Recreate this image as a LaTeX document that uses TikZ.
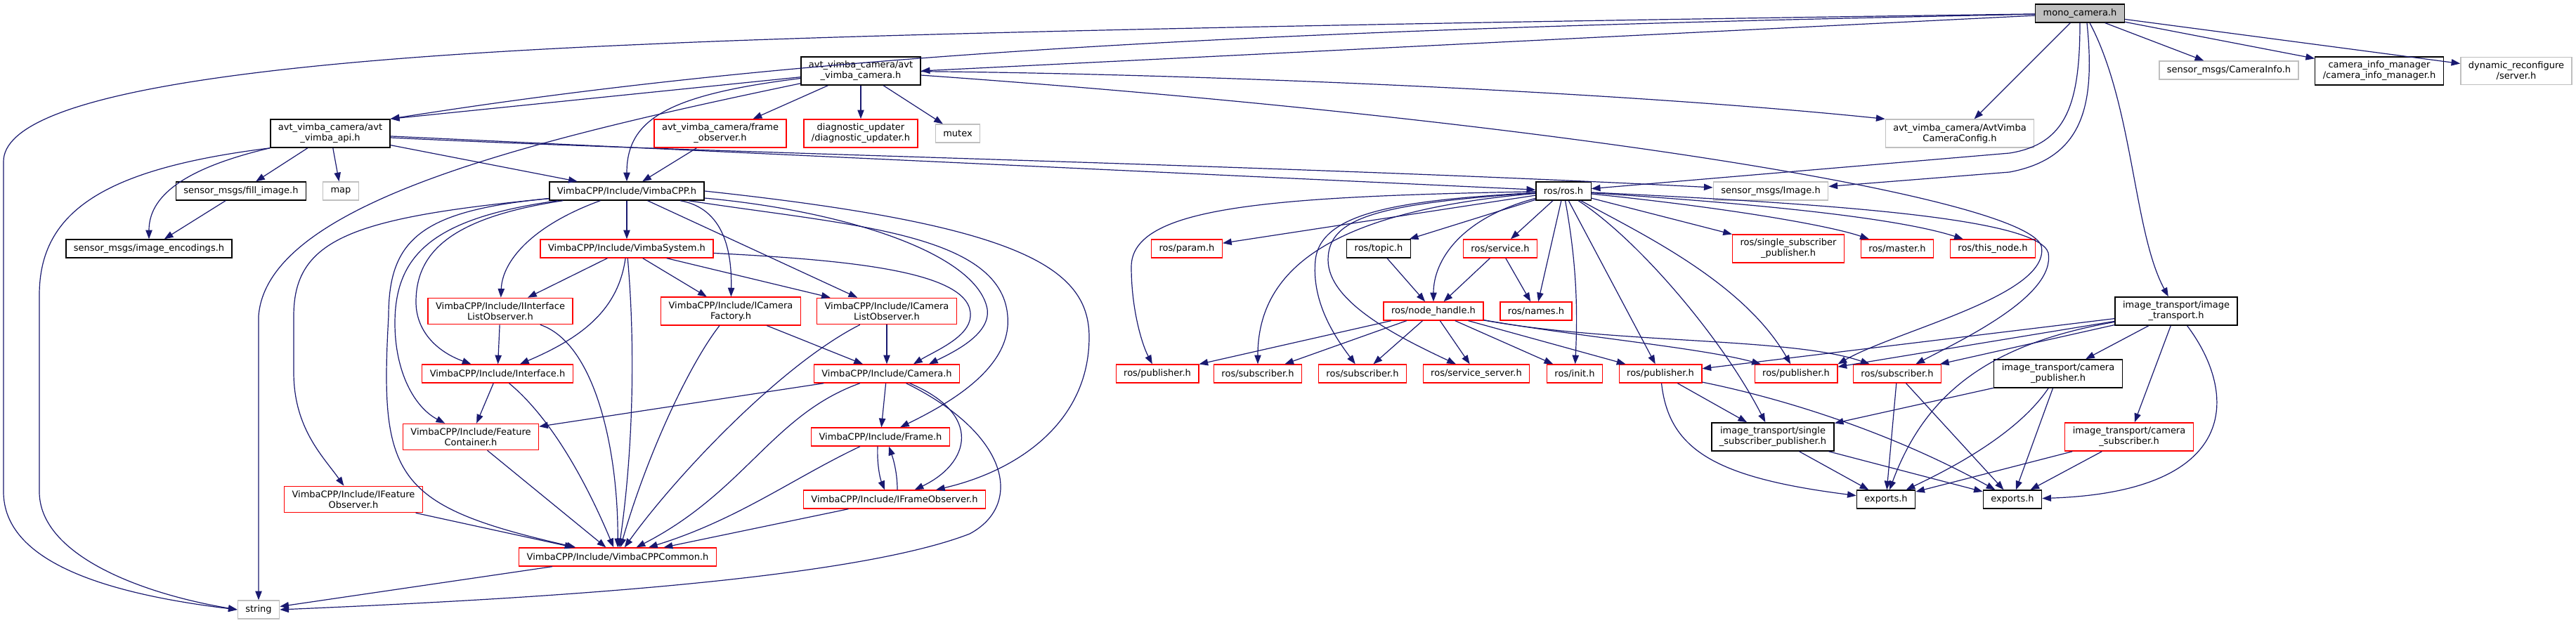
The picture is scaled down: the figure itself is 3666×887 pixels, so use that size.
\documentclass[tikz,border=0pt]{standalone}
\usepackage{fontspec}
\setmainfont{DejaVu Sans}
\usepackage{tikz}
\usetikzlibrary{arrows.meta,calc}
\definecolor{edgeblue}{RGB}{25,25,112}
\definecolor{cutred}{RGB}{255,0,0}
\definecolor{extgray}{RGB}{191,191,191}

\begin{document}
\begin{tikzpicture}[
        x=0.75pt, y=-0.75pt,
        file/.style={rectangle, draw=#1, fill=white, line width=1pt, text=black,
            minimum height=19.5pt, inner xsep=8.25pt, inner ysep=4.6pt,
            align=center, font=\fontsize{9.75}{11.25}\selectfont},
        dep/.style={-{Triangle[length=9.5pt,width=7pt]}, draw=edgeblue, line width=0.9pt}
    ]
        \fill[white] (0,0) rectangle (3666,887);
        \useasboundingbox (0,0) rectangle (3666,887);

        \node[file=black, fill=extgray] (mono) at (2960,19) {mono\_camera.h};
        \node[file=black] (avtcam) at (1225,101) {avt\_vimba\_camera/avt\\\_vimba\_camera.h};
        \node[file=extgray] (caminfo) at (3172,100) {sensor\_msgs/CameraInfo.h};
        \node[file=black] (infomgr) at (3386,101) {camera\_info\_manager\\/camera\_info\_manager.h};
        \node[file=extgray] (dynrec) at (3581,101) {dynamic\_reconfigure\\/server.h};

        \node[file=black] (api) at (470,190) {avt\_vimba\_camera/avt\\\_vimba\_api.h};
        \node[file=cutred] (frameobs) at (1025,190) {avt\_vimba\_camera/frame\\\_observer.h};
        \node[file=cutred] (diag) at (1225,190) {diagnostic\_updater\\/diagnostic\_updater.h};
        \node[file=extgray] (mutex) at (1363,190) {mutex};
        \node[file=extgray] (config) at (2789,190) {avt\_vimba\_camera/AvtVimba\\CameraConfig.h};

        \node[file=black] (fillimg) at (343,272) {sensor\_msgs/fill\_image.h};
        \node[file=extgray] (map) at (485,272) {map};
        \node[file=black] (vimbacpp) at (892,272) {VimbaCPP/Include/VimbaCPP.h};
        \node[file=black] (rosh) at (2225,272) {ros/ros.h};
        \node[file=extgray] (image) at (2520,272) {sensor\_msgs/Image.h};

        \node[file=black] (encodings) at (212,354) {sensor\_msgs/image\_encodings.h};
        \node[file=cutred] (vsystem) at (892,354) {VimbaCPP/Include/VimbaSystem.h};
        \node[file=cutred] (param) at (1689,354) {ros/param.h};
        \node[file=black] (topic) at (1962,354) {ros/topic.h};
        \node[file=cutred] (service) at (2135,354) {ros/service.h};
        \node[file=cutred] (rossingle) at (2545,354) {ros/single\_subscriber\\\_publisher.h};
        \node[file=cutred] (master) at (2700,354) {ros/master.h};
        \node[file=cutred] (thisnode) at (2836,354) {ros/this\_node.h};

        \node[file=cutred] (iiflist) at (712,443) {VimbaCPP/Include/IInterface\\ListObserver.h};
        \node[file=cutred] (icamfac) at (1040,443) {VimbaCPP/Include/ICamera\\Factory.h};
        \node[file=cutred] (icamlist) at (1262,443) {VimbaCPP/Include/ICamera\\ListObserver.h};
        \node[file=cutred] (nodehandle) at (2040,443) {ros/node\_handle.h};
        \node[file=cutred] (names) at (2186,443) {ros/names.h};
        \node[file=black] (itrans) at (3097,443) {image\_transport/image\\\_transport.h};

        \node[file=cutred] (iface) at (708,532) {VimbaCPP/Include/Interface.h};
        \node[file=cutred] (camera) at (1262,532) {VimbaCPP/Include/Camera.h};
        \node[file=cutred] (pubA) at (1647,532) {ros/publisher.h};
        \node[file=cutred] (subA) at (1790,532) {ros/subscriber.h};
        \node[file=cutred] (subB) at (1939,532) {ros/subscriber.h};
        \node[file=cutred] (server) at (2101,532) {ros/service\_server.h};
        \node[file=cutred] (init) at (2241,532) {ros/init.h};
        \node[file=cutred] (pubB) at (2363,532) {ros/publisher.h};
        \node[file=cutred] (pubC) at (2556,532) {ros/publisher.h};
        \node[file=cutred] (subC) at (2700,532) {ros/subscriber.h};
        \node[file=black] (campub) at (2929,532) {image\_transport/camera\\\_publisher.h};

        \node[file=cutred] (featcont) at (670,622) {VimbaCPP/Include/Feature\\Container.h};
        \node[file=cutred] (frame) at (1253,622) {VimbaCPP/Include/Frame.h};
        \node[file=black] (itsingle) at (2523,622) {image\_transport/single\\\_subscriber\_publisher.h};
        \node[file=cutred] (camsub) at (3030,622) {image\_transport/camera\\\_subscriber.h};

        \node[file=cutred] (ifeatobs) at (503,711) {VimbaCPP/Include/IFeature\\Observer.h};
        \node[file=cutred] (iframeobs) at (1273,711) {VimbaCPP/Include/IFrameObserver.h};
        \node[file=black] (exportsA) at (2684,711) {exports.h};
        \node[file=black] (exportsB) at (2864,711) {exports.h};

        \node[file=cutred] (common) at (879,793) {VimbaCPP/Include/VimbaCPPCommon.h};
        \node[file=extgray] (string) at (368,868) {string};

        \draw[dep] (mono) .. controls (1800,35) and (1200,50) .. (920,63) .. controls (400,85) and (5,130) .. (5,230) -- (5,700) .. controls (5,800) and (150,845) .. (string.west);
        \draw[dep] (mono) .. controls (1800,42) and (1150,75) .. (api.north east);
        \draw[dep] (mono) -- (avtcam.east);
        \draw[dep] (mono) -- (config);
        \draw[dep] (mono.south) .. controls (2960,150) and (2940,205) .. (2860,218) -- (rosh);
        \draw[dep] ($(mono.south)+(10,0)$) .. controls (2982,150) and (2965,225) .. (2860,245) -- (image);
        \draw[dep] ($(mono.south)+(14,0)$) .. controls (3036,150) and (3036,330) .. (itrans);
        \draw[dep] (mono) -- (caminfo);
        \draw[dep] (mono) -- (infomgr);
        \draw[dep] (mono) -- (dynrec);

        \draw[dep] (avtcam) -- (api.north east);
        \draw[dep] (avtcam) .. controls (750,200) and (380,290) .. (368,450) -- (string);
        \draw[dep] (avtcam) .. controls (950,135) and (892,170) .. (vimbacpp);
        \draw[dep] (avtcam) -- (frameobs);
        \draw[dep] (avtcam) -- (diag);
        \draw[dep] (avtcam) -- (mutex);
        \draw[dep] (avtcam) .. controls (1700,105) and (2300,130) .. (config.north west);
        \draw[dep] (avtcam) .. controls (2200,170) and (2880,280) .. (2905,350) .. controls (2920,420) and (2700,470) .. (pubC.north east);

        \draw[dep] (api.south west) .. controls (150,240) and (56,300) .. (56,420) -- (56,700) .. controls (56,790) and (200,845) .. (string.west);
        \draw[dep] (api.south west) .. controls (260,240) and (212,280) .. (encodings);
        \draw[dep] (api) -- (fillimg);
        \draw[dep] (api) -- (map);
        \draw[dep] (api) -- (vimbacpp);
        \draw[dep] ($(api.east)+(0,6)$) .. controls (1000,218) and (1800,234) .. ($(image.west)+(0,-5)$);
        \draw[dep] (api) -- (rosh);
        \draw[dep] (fillimg) -- (encodings);
        \draw[dep] (frameobs) -- (vimbacpp);

        \draw[dep] (vimbacpp) .. controls (500,310) and (418,340) .. (418,450) -- (418,530) .. controls (418,610) and (460,650) .. (ifeatobs);
        \draw[dep] (vimbacpp) .. controls (600,300) and (553,340) .. (553,450) .. controls (540,680) and (560,720) .. (common);
        \draw[dep] (vimbacpp) .. controls (620,310) and (562,360) .. (562,460) .. controls (562,530) and (590,580) .. (featcont);
        \draw[dep] (vimbacpp) .. controls (640,310) and (592,360) .. (592,430) .. controls (592,470) and (620,500) .. (iface);
        \draw[dep] (vimbacpp) .. controls (760,320) and (715,370) .. (iiflist);
        \draw[dep] (vimbacpp) -- (vsystem);
        \draw[dep] (vimbacpp) .. controls (1020,295) and (1042,340) .. (icamfac);
        \draw[dep] (vimbacpp) -- (icamlist);
        \draw[dep] (vimbacpp) .. controls (1200,300) and (1390,360) .. (1405,440) .. controls (1410,475) and (1360,500) .. ($(camera.north)+(60,0)$);
        \draw[dep] (vimbacpp) .. controls (1200,320) and (1425,330) .. (1434,450) .. controls (1440,520) and (1360,570) .. (frame);
        \draw[dep] (vimbacpp.east) .. controls (1450,320) and (1550,380) .. (1550,480) .. controls (1550,600) and (1450,670) .. (iframeobs);

        \draw[dep] (vsystem) -- (iiflist);
        \draw[dep] (vsystem) .. controls (880,440) and (830,480) .. (iface);
        \draw[dep] (vsystem) .. controls (905,500) and (900,650) .. (common);
        \draw[dep] (vsystem) -- (icamfac);
        \draw[dep] (vsystem) -- (icamlist);
        \draw[dep] (vsystem) .. controls (1200,370) and (1385,385) .. (1381,450) .. controls (1380,480) and (1330,500) .. ($(camera.north)+(38,0)$);

        \draw[dep] (iiflist) -- (iface);
        \draw[dep] (iiflist) .. controls (850,490) and (880,650) .. (common);
        \draw[dep] (icamfac) -- (camera);
        \draw[dep] (icamfac) .. controls (980,520) and (920,650) .. (common);
        \draw[dep] (icamlist) -- (camera);
        \draw[dep] (icamlist) .. controls (1110,520) and (960,680) .. (common);
        \draw[dep] (iface) -- (featcont);
        \draw[dep] (iface) .. controls (790,600) and (840,700) .. (common);
        \draw[dep] (featcont) -- (common);
        \draw[dep] (ifeatobs) -- (common);

        \draw[dep] (camera) -- (featcont);
        \draw[dep] (camera) .. controls (1100,590) and (1060,700) .. (common);
        \draw[dep] (camera) -- (frame);
        \draw[dep] (camera) .. controls (1400,590) and (1380,660) .. (iframeobs);
        \draw[dep] (camera) .. controls (1440,620) and (1455,720) .. (1380,760) .. controls (1200,830) and (700,855) .. (string.east);
        \draw[dep] (frame) .. controls (1130,680) and (1050,740) .. (common);
        \draw[dep] ($(frame.south)+(-4,0)$) .. controls (1248,660) and (1252,680) .. ($(iframeobs.north)+(-14,0)$);
        \draw[dep] ($(iframeobs.north)+(4,0)$) .. controls (1277,670) and (1270,650) .. ($(frame.south)+(12,0)$);
        \draw[dep] (iframeobs) -- (common);
        \draw[dep] (common) -- (string);

        \draw[dep] (rosh) -- (param);
        \draw[dep] (rosh) .. controls (1800,280) and (1610,295) .. (1610,380) .. controls (1610,440) and (1625,490) .. (pubA);
        \draw[dep] (rosh) .. controls (1900,300) and (1790,380) .. (subA);
        \draw[dep] (rosh) .. controls (2000,285) and (1880,300) .. (1872,370) .. controls (1866,430) and (1900,480) .. (subB);
        \draw[dep] (rosh) .. controls (1960,290) and (1890,310) .. (1890,370) .. controls (1890,430) and (1990,480) .. (server);
        \draw[dep] (rosh) -- (topic);
        \draw[dep] (rosh) .. controls (2080,310) and (2040,370) .. (nodehandle);
        \draw[dep] (rosh) -- (service);
        \draw[dep] (rosh) -- (names);
        \draw[dep] (rosh) .. controls (2245,380) and (2245,450) .. (init);
        \draw[dep] (rosh) -- (pubB);
        \draw[dep] (rosh) .. controls (2330,330) and (2480,400) .. (pubC);
        \draw[dep] (rosh) .. controls (2330,340) and (2450,480) .. (itsingle);
        \draw[dep] (rosh) -- (rossingle);
        \draw[dep] (rosh) .. controls (2450,295) and (2600,320) .. (master);
        \draw[dep] (rosh) .. controls (2500,290) and (2700,310) .. (thisnode);
        \draw[dep] (rosh) .. controls (2600,290) and (2900,310) .. (2915,360) .. controls (2925,420) and (2800,480) .. (subC);

        \draw[dep] (nodehandle) -- (pubA);
        \draw[dep] (nodehandle) -- (subA);
        \draw[dep] (nodehandle) -- (subB);
        \draw[dep] (nodehandle) -- (server);
        \draw[dep] (nodehandle) -- (init);
        \draw[dep] (nodehandle) -- (pubB);
        \draw[dep] (nodehandle) .. controls (2250,480) and (2420,495) .. (pubC);
        \draw[dep] (nodehandle) .. controls (2300,490) and (2550,480) .. (subC);
        \draw[dep] (topic) -- (nodehandle);
        \draw[dep] (service) -- (nodehandle);
        \draw[dep] (service) -- (names);

        \draw[dep] (pubB) .. controls (2375,640) and (2440,680) .. (exportsA);
        \draw[dep] (pubB) -- (itsingle);
        \draw[dep] (pubB) .. controls (2550,570) and (2700,620) .. (exportsB);
        \draw[dep] (subC) -- (exportsA);
        \draw[dep] (subC) -- (exportsB);
        \draw[dep] (itsingle) -- (exportsA);
        \draw[dep] (itsingle) -- (exportsB);
        \draw[dep] (campub) -- (itsingle);
        \draw[dep] (campub) .. controls (2870,620) and (2770,670) .. (exportsA);
        \draw[dep] (campub) -- (exportsB);
        \draw[dep] (camsub) -- (exportsA);
        \draw[dep] (camsub) -- (exportsB);

        \draw[dep] (itrans) -- (pubB);
        \draw[dep] (itrans) -- (pubC);
        \draw[dep] (itrans) -- (subC);
        \draw[dep] (itrans) .. controls (2830,490) and (2740,560) .. (exportsA);
        \draw[dep] (itrans) -- (campub);
        \draw[dep] (itrans) -- (camsub);
        \draw[dep] (itrans) .. controls (3185,560) and (3190,700) .. (exportsB);
    \end{tikzpicture}
\end{document}
